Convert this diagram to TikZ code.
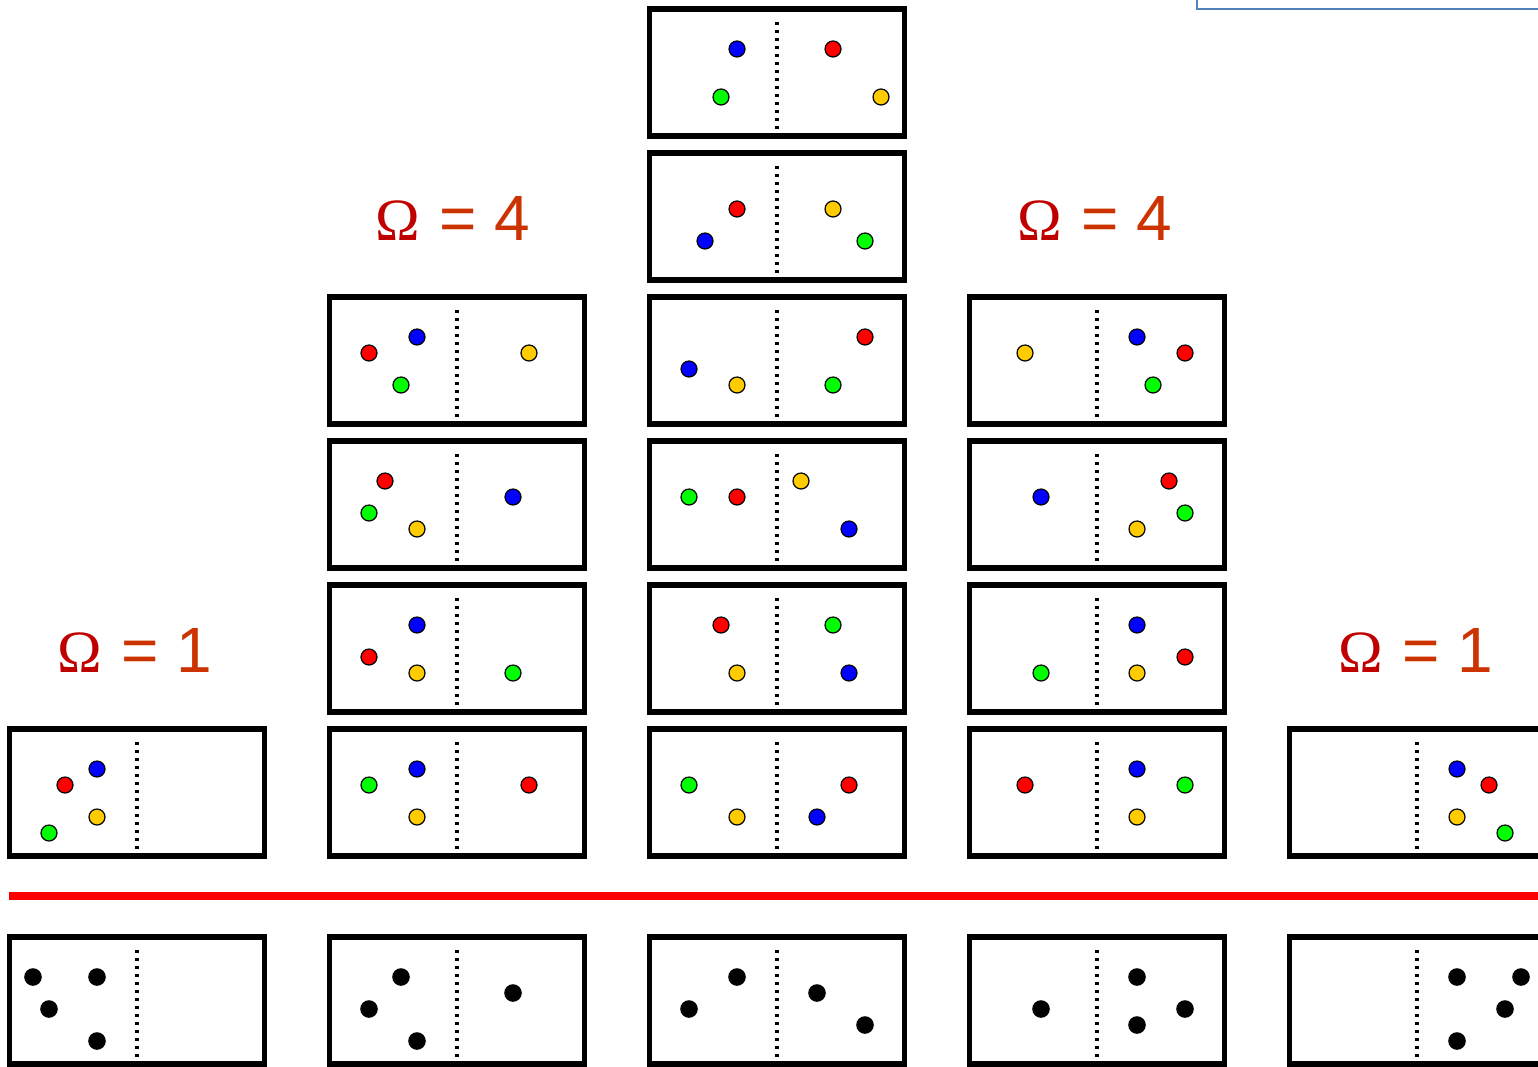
\documentclass[tikz,border=0pt]{standalone}
\usepackage{fontspec}
\setmainfont{Liberation Sans}
\newfontfamily\omfont{Liberation Serif}
\definecolor{omred}{HTML}{C00000}
\definecolor{eqred}{HTML}{CC3300}
\definecolor{bgold}{HTML}{FFCC00}
\definecolor{bgreen}{HTML}{00FF00}
\definecolor{bblue}{HTML}{0000FF}
\definecolor{bred}{HTML}{FF0000}
\definecolor{frameblue}{HTML}{4F81BD}
\tikzset{
  cell/.style={draw=black, line width=5.5pt, minimum width=255pt, minimum height=127pt, inner sep=0pt, fill=white},
  sepline/.style={draw=black, line width=3.2pt, dash pattern=on 3pt off 5pt},
  ball/.style={draw=black, line width=1.2pt},
  blackball/.style={fill=black},
  lbl/.style={anchor=base west, inner sep=0pt, outer sep=0pt},
  omtext/.style={lbl, text=omred, font=\omfont\fontsize{60}{60}\selectfont},
  eqtext/.style={lbl, text=eqred, font=\fontsize{64}{64}\selectfont},
  divider/.style={draw=bred, line width=8.5pt},
  framebl/.style={draw=frameblue, line width=1.8pt}
}
\newcommand\mycell[3]{%
  \node[cell] (#1) at (#2,#3+63.5) {};
  \draw[sepline] ([yshift=-16pt]#1.north) -- (#1.south);}
\newcommand\myball[3]{\path[ball, fill=#1] (#2,#3) circle[radius=8pt];}
\newcommand\myblk[2]{\path[blackball] (#1,#2) circle[radius=8.8pt];}
\newcommand\omlabel[3]{%
  \node[omtext] (#1) at (#2) {Ω};
  \node[eqtext] (#1-eq) at ([xshift=64.3pt]#1.base west) {= #3};}
\begin{document}
\begin{tikzpicture}[x=1pt, y=-1pt]
\useasboundingbox (0,0) rectangle (1538,1066);
\clip (0,0) rectangle (1538,1066);
\fill[white] (0,0) rectangle (1538,1066);
% top-right frame corner
\draw[framebl] (1197,-10) -- (1197,9.3) -- (1545,9.3);
% labels
\omlabel{la}{57,672}{1}
\omlabel{lb}{375,240}{4}
\omlabel{lc}{1017,240}{4}
\omlabel{ld}{1338,672}{1}
% column 1
\mycell{c1r6}{137}{729}
\myball{bred}{65}{785}\myball{bblue}{97}{769}\myball{bgold}{97}{817}\myball{bgreen}{49}{833}
% column 2
\mycell{c2r3}{457}{297}
\myball{bred}{369}{353}\myball{bblue}{417}{337}\myball{bgreen}{401}{385}\myball{bgold}{529}{353}
\mycell{c2r4}{457}{441}
\myball{bred}{385}{481}\myball{bgreen}{369}{513}\myball{bgold}{417}{529}\myball{bblue}{513}{497}
\mycell{c2r5}{457}{585}
\myball{bblue}{417}{625}\myball{bred}{369}{657}\myball{bgold}{417}{673}\myball{bgreen}{513}{673}
\mycell{c2r6}{457}{729}
\myball{bgreen}{369}{785}\myball{bblue}{417}{769}\myball{bgold}{417}{817}\myball{bred}{529}{785}
% column 3
\mycell{c3r1}{777}{9}
\myball{bblue}{737}{49}\myball{bgreen}{721}{97}\myball{bred}{833}{49}\myball{bgold}{881}{97}
\mycell{c3r2}{777}{153}
\myball{bred}{737}{209}\myball{bblue}{705}{241}\myball{bgold}{833}{209}\myball{bgreen}{865}{241}
\mycell{c3r3}{777}{297}
\myball{bblue}{689}{369}\myball{bgold}{737}{385}\myball{bred}{865}{337}\myball{bgreen}{833}{385}
\mycell{c3r4}{777}{441}
\myball{bgreen}{689}{497}\myball{bred}{737}{497}\myball{bgold}{801}{481}\myball{bblue}{849}{529}
\mycell{c3r5}{777}{585}
\myball{bred}{721}{625}\myball{bgold}{737}{673}\myball{bgreen}{833}{625}\myball{bblue}{849}{673}
\mycell{c3r6}{777}{729}
\myball{bgreen}{689}{785}\myball{bgold}{737}{817}\myball{bred}{849}{785}\myball{bblue}{817}{817}
% column 4
\mycell{c4r3}{1097}{297}
\myball{bgold}{1025}{353}\myball{bblue}{1137}{337}\myball{bred}{1185}{353}\myball{bgreen}{1153}{385}
\mycell{c4r4}{1097}{441}
\myball{bblue}{1041}{497}\myball{bred}{1169}{481}\myball{bgreen}{1185}{513}\myball{bgold}{1137}{529}
\mycell{c4r5}{1097}{585}
\myball{bgreen}{1041}{673}\myball{bblue}{1137}{625}\myball{bred}{1185}{657}\myball{bgold}{1137}{673}
\mycell{c4r6}{1097}{729}
\myball{bred}{1025}{785}\myball{bblue}{1137}{769}\myball{bgreen}{1185}{785}\myball{bgold}{1137}{817}
% column 5
\mycell{c5r6}{1417}{729}
\myball{bblue}{1457}{769}\myball{bred}{1489}{785}\myball{bgold}{1457}{817}\myball{bgreen}{1505}{833}
% divider
\coordinate (dl) at (9,896);
\coordinate (dr) at (1545,896);
\draw[divider] (dl) -- (dr);
% bottom row
\mycell{k1}{137}{937}
\myblk{33}{977}\myblk{97}{977}\myblk{49}{1009}\myblk{97}{1041}
\mycell{k2}{457}{937}
\myblk{401}{977}\myblk{369}{1009}\myblk{417}{1041}\myblk{513}{993}
\mycell{k3}{777}{937}
\myblk{737}{977}\myblk{689}{1009}\myblk{817}{993}\myblk{865}{1025}
\mycell{k4}{1097}{937}
\myblk{1041}{1009}\myblk{1137}{977}\myblk{1185}{1009}\myblk{1137}{1025}
\mycell{k5}{1417}{937}
\myblk{1457}{977}\myblk{1521}{977}\myblk{1505}{1009}\myblk{1457}{1041}
\end{tikzpicture}
\end{document}
